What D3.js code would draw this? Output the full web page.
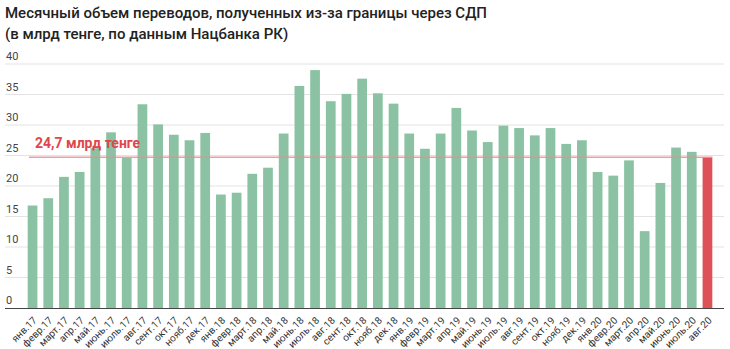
<!DOCTYPE html>
<html><head><meta charset="utf-8">
<script src="https://cdn.jsdelivr.net/npm/d3@7"></script>
<style>body{margin:0;background:#fff;}svg{display:block;font-family:Roboto,"Noto Sans",sans-serif;}</style>
</head><body>
<svg id="c" width="730" height="349"></svg>
<script>
const categories = ["янв.17","февр.17","март.17","апр.17","май.17","июнь.17","июль.17","авг.17","сент.17","окт.17","нояб.17","дек.17",
"янв.18","февр.18","март.18","апр.18","май.18","июнь.18","июль.18","авг.18","сент.18","окт.18","нояб.18","дек.18",
"янв.19","февр.19","март.19","апр.19","май.19","июнь.19","июль.19","авг.19","сент.19","окт.19","нояб.19","дек.19",
"янв.20","февр.20","март.20","апр.20","май.20","июнь.20","июль.20","авг.20"];
const values = [16.8,18.0,21.5,22.3,26.2,28.8,24.6,33.4,30.1,28.4,27.5,28.7,
18.6,18.9,22.0,23.0,28.6,36.4,39.0,33.9,35.1,37.6,35.2,33.5,
28.6,26.1,28.6,32.8,29.1,27.2,29.9,29.5,28.3,29.5,26.9,27.5,
22.3,21.7,24.2,12.6,20.5,26.3,25.6,24.7];
const yTicks = [0,5,10,15,20,25,30,35,40];
const refValue = 24.7;
const refLabel = "24,7 млрд тенге";
const titleLines = ["Месячный объем переводов, полученных из-за границы через СДП","(в млрд тенге, по данным Нацбанка РК)"];

const svg = d3.select("#c");
const x = d3.scaleBand().domain(categories).range([24.7, 715.3]).paddingInner(0.38).paddingOuter(0.19);
const y = d3.scaleLinear().domain([0, 40]).range([308, 64]);

// title
svg.selectAll("text.title").data(titleLines).enter().append("text")
  .attr("x", 5).attr("y", (d,i)=>18 + i*21)
  .attr("font-size", 15).attr("font-weight", 500).attr("fill", "#222").text(d=>d);

// gridlines
svg.append("g").selectAll("line").data(yTicks.filter(t=>t>0)).enter().append("line")
  .attr("x1", 5).attr("x2", 724).attr("y1", d=>y(d)).attr("y2", d=>y(d))
  .attr("stroke", "#e3e3e3").attr("stroke-width", 1);
svg.append("g").selectAll("text").data(yTicks).enter().append("text")
  .attr("x", 6).attr("y", d=>y(d)-4).attr("font-size", 11).attr("fill", "#444").text(d=>d);

// bars
svg.append("g").selectAll("rect").data(values).enter().append("rect")
  .attr("x", (d,i)=>x(categories[i])).attr("width", x.bandwidth())
  .attr("y", d=>y(d)).attr("height", d=>y(0)-y(d))
  .attr("fill", (d,i)=> i===values.length-1 ? "#dc5256" : "#8cc2a4");

// baseline
svg.append("line").attr("x1", 5).attr("x2", 724).attr("y1", y(0)+0.5).attr("y2", y(0)+0.5)
  .attr("stroke", "#444").attr("stroke-width", 1);

// reference line
svg.append("line").attr("x1", 29).attr("x2", x(categories[categories.length-1]) + x.bandwidth())
  .attr("y1", y(refValue)).attr("y2", y(refValue))
  .attr("stroke", "#ec8d8f").attr("stroke-opacity", 0.85).attr("stroke-width", 1.5);
svg.append("text").attr("x", 35).attr("y", y(refValue) - 9)
  .attr("font-size", 14).attr("font-weight", 700).attr("fill", "#e0464b").text(refLabel);

// x labels
svg.append("g").selectAll("text").data(categories).enter().append("text")
  .attr("transform", d=>`translate(${x(d)+x.bandwidth()/2+5},${y(0)+13}) rotate(-45)`)
  .attr("text-anchor", "end").attr("font-size", 10).attr("fill", "#333").text(d=>d);
</script>
</body></html>
